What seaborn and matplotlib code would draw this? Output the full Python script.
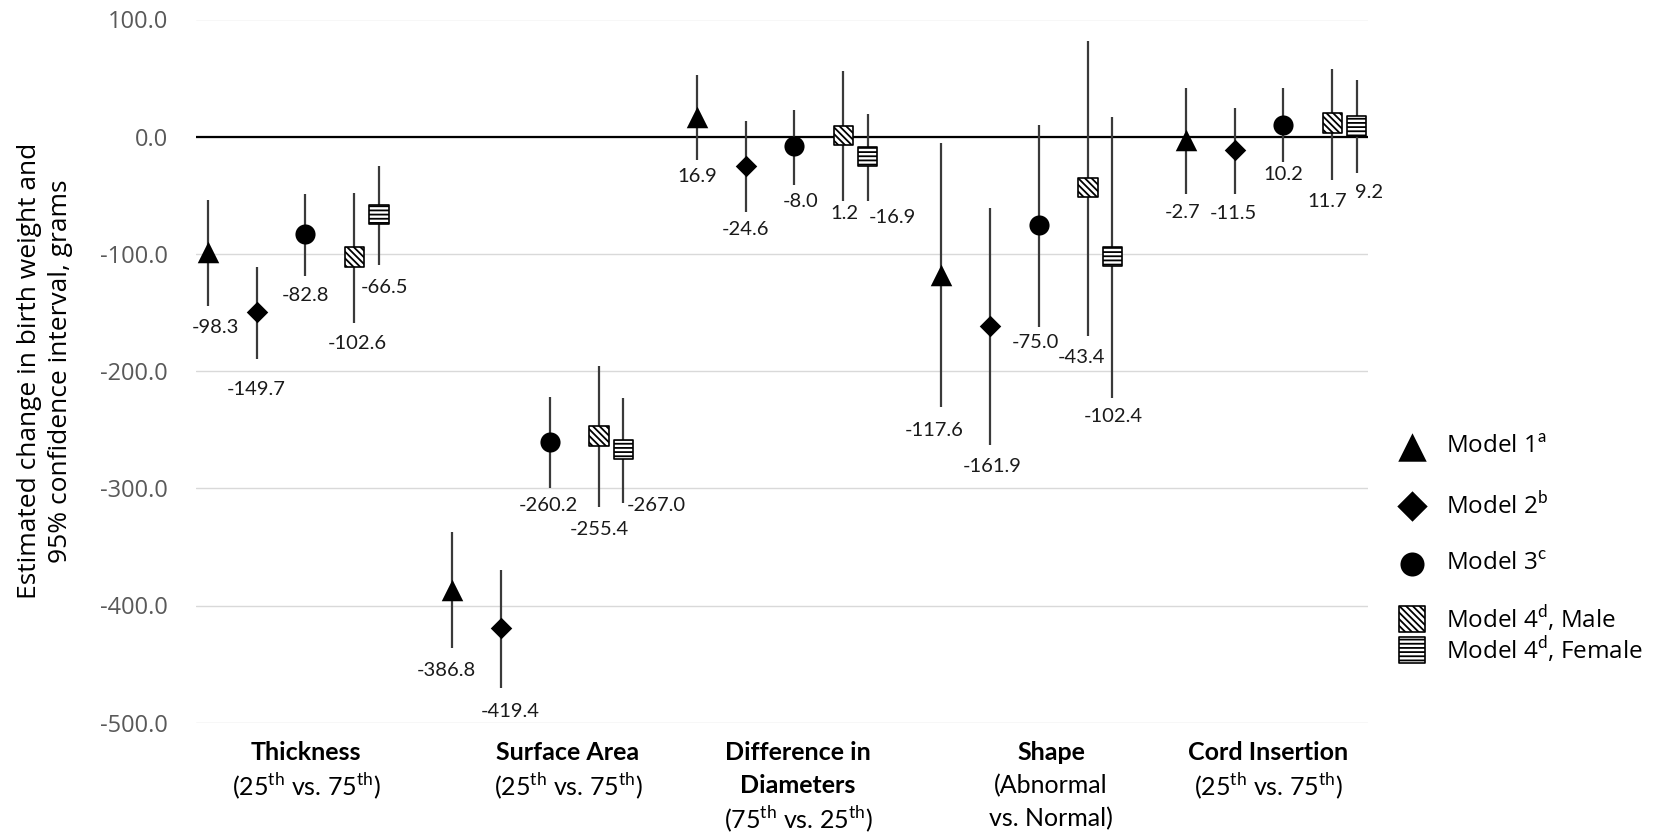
import matplotlib
matplotlib.use('Agg')
import numpy as np
import pandas as pd
import seaborn as sns
from matplotlib import pyplot as plt

# ---- data ----
categories = ['Thickness', 'Surface Area', 'Difference in Diameters', 'Shape', 'Cord Insertion']
models = ['Model 1', 'Model 2', 'Model 3', 'Model 4, Male', 'Model 4, Female']

est_m1 = [-98.3, -386.8, 16.9, -117.6, -2.7]
est_m2 = [-149.7, -419.4, -24.6, -161.9, -11.5]
est_m3 = [-82.8, -260.2, -8.0, -75.0, 10.2]
est_m4m = [-102.6, -255.4, 1.2, -43.4, 11.7]
est_m4f = [-66.5, -267.0, -16.9, -102.4, 9.2]

lo_m1 = [-144.1, -436.3, -19.9, -230.8, -48.9]
lo_m2 = [-189.6, -470.1, -64.5, -262.9, -48.9]
lo_m3 = [-118.5, -299.6, -40.9, -162.0, -21.9]
lo_m4m = [-158.9, -316.1, -54.6, -170.3, -36.9]
lo_m4f = [-109.2, -312.4, -54.6, -223.1, -31.0]

hi_m1 = [-54.0, -337.7, 52.9, -5.7, 41.2]
hi_m2 = [-111.4, -369.5, 13.4, -61.1, 24.1]
hi_m3 = [-48.9, -221.7, 23.0, 10.0, 41.2]
hi_m4m = [-48.0, -195.9, 55.7, 81.9, 57.7]
hi_m4f = [-25.3, -222.8, 19.0, 17.1, 48.0]

y_ticks = [100, 0, -100, -200, -300, -400, -500]

# label lines under each group (bold first lines)
cat_lines = [
    [('Thickness', 'bold'), (r'(25$^{\mathrm{th}}$ vs. 75$^{\mathrm{th}}$)', 'normal')],
    [('Surface Area', 'bold'), (r'(25$^{\mathrm{th}}$ vs. 75$^{\mathrm{th}}$)', 'normal')],
    [('Difference in', 'bold'), ('Diameters', 'bold'), (r'(75$^{\mathrm{th}}$ vs. 25$^{\mathrm{th}}$)', 'normal')],
    [('Shape', 'bold'), ('(Abnormal', 'normal'), ('vs. Normal)', 'normal')],
    [('Cord Insertion', 'bold'), (r'(25$^{\mathrm{th}}$ vs. 75$^{\mathrm{th}}$)', 'normal')],
]
legend_labels = [r'Model 1$^{\mathrm{a}}$', r'Model 2$^{\mathrm{b}}$', r'Model 3$^{\mathrm{c}}$',
                 r'Model 4$^{\mathrm{d}}$, Male', r'Model 4$^{\mathrm{d}}$, Female']

# ---- layout / style ----
model_offset = [0, 1, 2, 3, 3.5]
styles = [
    dict(marker='^', s=240, color='black', linewidth=0),
    dict(marker='D', s=120, color='black', linewidth=0),
    dict(marker='o', s=210, color='black', linewidth=0),
    dict(marker='s', s=195, facecolor='white', edgecolor='black', linewidth=1.2, hatch='\\\\\\\\\\'),
    dict(marker='s', s=195, facecolor='white', edgecolor='black', linewidth=1.2, hatch='----'),
]
legend_sizes = [420, 240, 300, 330, 330]
# data label offsets (pixels, dx right, dy down from lower CI end)
label_off = [
    [(8, 22), (-6, 22), (1, 16), (-7, 23), (-3, 18)],
    [(0, 31), (9, 24), (0, 17), (2, 22), (-1, 19)],
    [(0, 20), (-2, 18), (6, 17), (-3, 16), (0, 12)],
    [(3, 21), (1, 22), (1, 13), (-6, 21), (-5, 22)],
    [(6, 23), (33, 3), (25, 17), (1, 18), (12, 19)],
]
cat_x_px = [306, 568, 798, 1051, 1268]
legend_y_px = [447, 506, 564, 619, 650]

est = [est_m1, est_m2, est_m3, est_m4m, est_m4f]
lo = [lo_m1, lo_m2, lo_m3, lo_m4m, lo_m4f]
hi = [hi_m1, hi_m2, hi_m3, hi_m4m, hi_m4f]

rows = []
for m, name in enumerate(models):
    for c, cat in enumerate(categories):
        rows.append(dict(model=name, m=m, category=cat, x=c * 5 + model_offset[m] + 1,
                         est=est[m][c], lo=lo[m][c], hi=hi[m][c]))
df = pd.DataFrame(rows)

sns.set_style('white')
plt.rcParams['font.family'] = ['Open Sans', 'DejaVu Sans']
plt.rcParams['mathtext.fontset'] = 'custom'
plt.rcParams['mathtext.rm'] = 'Lato'
plt.rcParams['hatch.linewidth'] = 1.3

W, H = 1656, 835
fig = plt.figure(figsize=(W / 100, H / 100), dpi=100)
ax = fig.add_axes([196 / W, 1 - 722.7 / H, (1368 - 196) / W, (722.7 - 19.5) / H])

ax.vlines(df['x'], df['lo'], df['hi'], color='#3a3a3a', linewidth=1.6, zorder=2)
for m in range(len(models)):
    sub = df[df['m'] == m]
    sns.scatterplot(data=sub, x='x', y='est', ax=ax, zorder=3, legend=False, **styles[m])
    for _, r in sub.iterrows():
        dx, dy = label_off[m][categories.index(r['category'])]
        ax.annotate(f"{r['est']:.1f}", (r['x'], r['lo']), xytext=(dx, -dy),
                    textcoords='offset pixels', ha='center', va='center',
                    fontsize=14.5, family=['Lato', 'DejaVu Sans'], color='#1a1a1a')

ax.axhline(0, color='black', linewidth=1.6, zorder=1)
ax.set_ylim(-500, 100)
ax.set_xlim(0.761, 24.73)
ax.set_yticks(y_ticks)
ax.set_yticklabels([f'{v:.1f}' for v in y_ticks])
ax.yaxis.grid(True, color='#d9d9d9', linewidth=1)
ax.xaxis.grid(False)
ax.set_xticks([])
ax.tick_params(axis='y', length=0, pad=20, labelsize=17, labelcolor='#595959')
for sp in ax.spines.values():
    sp.set_visible(False)
ax.set_xlabel('')
ax.set_ylabel('')

fig.text(45 / W, 1 - 371 / H, 'Estimated change in birth weight and\n95% confidence interval, grams',
         rotation=90, ha='center', va='center', fontsize=19, linespacing=1.3, color='black')

# overlay in pixel coordinates for group labels and legend
ov = fig.add_axes([0, 0, 1, 1], facecolor='none')
ov.set_xlim(0, W)
ov.set_ylim(H, 0)
ov.axis('off')

for cx, lines in zip(cat_x_px, cat_lines):
    for i, (txt, wt) in enumerate(lines):
        ov.text(cx, 752 + i * 33.5, txt, ha='center', va='center', fontsize=18,
                fontweight=wt, family=['Lato', 'DejaVu Sans'], color='black')

for m in range(len(models)):
    st = dict(styles[m])
    st['s'] = legend_sizes[m]
    ov.scatter([1412], [legend_y_px[m]], clip_on=False, **st)
    ov.text(1446, legend_y_px[m], legend_labels[m], ha='left', va='center', fontsize=17.5, color='black')

fig.savefig('out.png', dpi=100)
